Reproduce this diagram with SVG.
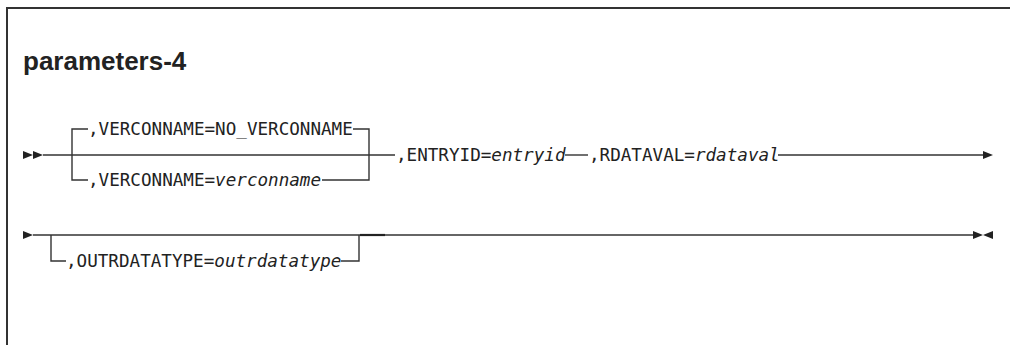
<svg xmlns="http://www.w3.org/2000/svg" width="1010" height="345" viewBox="0 0 1010 345">
<style>
.ln{fill:none;stroke:#333;stroke-width:1.4}
.ar{fill:#222}
.t{font-family:"DejaVu Sans Mono","Liberation Mono",monospace;font-size:17.6px;fill:#222}
.i{font-style:italic}
.title{font-family:"Liberation Sans",Arial,sans-serif;font-weight:bold;font-size:26px;fill:#222}
</style>
<rect width="1010" height="345" fill="#fff"/>
<path d="M7,345 V8 H1010" fill="none" stroke="#333" stroke-width="2"/>
<text class="title" x="23" y="70">parameters-4</text>
<g id="connectors">
<path class="ln" d="M43,155 H395"/>
<path class="ln" d="M565,155 H588"/>
<path class="ln" d="M778,155 H983"/>
<path class="ln" d="M88,129 H72 V180 H88"/>
<path class="ln" d="M353,129 H369 V180 H322"/>
<path class="ln" d="M33,235 H973"/>
<path class="ln" d="M66,261 H51 V235"/>
<path class="ln" d="M341,261 H359 V235"/>
<path d="M360,235 H385" fill="none" stroke="#222" stroke-width="2.2"/>
<polygon class="ar" points="23,151 33,155 23,159"/>
<polygon class="ar" points="33,151 43,155 33,159"/>
<polygon class="ar" points="983,151 993,155 983,159"/>
<polygon class="ar" points="23,231 33,235 23,239"/>
<polygon class="ar" points="973,231 983,235 973,239"/>
<polygon class="ar" points="993,231 983,235 993,239"/>
</g>
<g id="verconname-default"><text class="t" x="88" y="135">,VERCONNAME=NO_VERCONNAME</text></g>
<g id="verconname"><text class="t" x="88" y="186">,VERCONNAME=<tspan class="i">verconname</tspan></text></g>
<g id="entryid"><text class="t" x="396" y="161">,ENTRYID=<tspan class="i">entryid</tspan></text></g>
<g id="rdataval"><text class="t" x="589" y="161">,RDATAVAL=<tspan class="i">rdataval</tspan></text></g>
<g id="outrdatatype"><text class="t" x="66" y="267">,OUTRDATATYPE=<tspan class="i">outrdatatype</tspan></text></g>
</svg>
